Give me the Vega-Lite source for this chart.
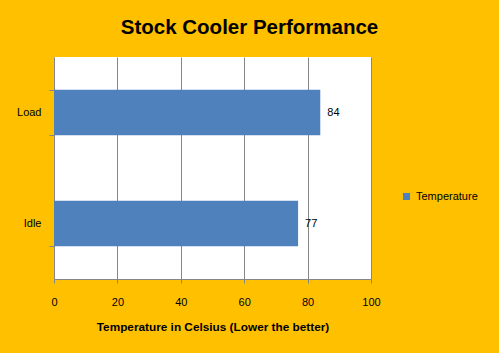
{
  "$schema": "https://vega.github.io/schema/vega-lite/v6.json",
  "autosize": "none",
  "width": 317,
  "height": 222,
  "padding": {"left": 54, "top": 57, "right": 128, "bottom": 74},
  "background": "#FFC000",
  "title": {
    "text": "Stock Cooler Performance",
    "font": "Liberation Sans",
    "fontSize": 20.5,
    "fontWeight": "bold",
    "color": "#000000",
    "anchor": "middle",
    "dx": 37,
    "offset": 13
  },
  "config": {
    "view": {"fill": "#FFFFFF", "stroke": null},
    "font": "Liberation Sans"
  },
  "data": {
    "values": [
      {"state": "Load", "temp": 84, "series": "Temperature"},
      {"state": "Idle", "temp": 77, "series": "Temperature"}
    ]
  },
  "encoding": {
    "y": {
      "field": "state",
      "type": "nominal",
      "sort": null,
      "scale": {"paddingInner": 0.59, "paddingOuter": 0.295},
      "axis": {
        "title": null,
        "labelFont": "Liberation Sans",
        "labelFontSize": 11,
        "labelColor": "#000000",
        "labelPadding": 8,
        "tickBand": "extent",
        "tickSize": 5,
        "tickColor": "#868686",
        "domainColor": "#868686",
        "grid": false
      }
    },
    "x": {
      "field": "temp",
      "type": "quantitative",
      "scale": {"domain": [0, 100]},
      "axis": {
        "title": "Temperature in Celsius (Lower the better)",
        "titleFont": "Liberation Sans",
        "titleFontSize": 11.8,
        "titleFontWeight": "bold",
        "titleColor": "#000000",
        "titlePadding": 14,
        "values": [0, 20, 40, 60, 80, 100],
        "labelFont": "Liberation Sans",
        "labelFontSize": 11,
        "labelColor": "#000000",
        "labelPadding": 13,
        "tickSize": 4,
        "tickColor": "#868686",
        "domainColor": "#868686",
        "gridColor": "#868686",
        "gridOpacity": 1,
        "labelFlush": false
      }
    }
  },
  "layer": [
    {
      "mark": {"type": "bar", "color": "#4F81BD"},
      "encoding": {
        "color": {
          "field": "series",
          "type": "nominal",
          "scale": {"range": ["#4F81BD"]},
          "legend": {
            "title": null,
            "orient": "none",
            "legendX": 347,
            "legendY": 134,
            "symbolType": "square",
            "symbolSize": 50,
            "symbolStrokeWidth": 0,
            "labelFont": "Liberation Sans",
            "labelFontSize": 11,
            "labelColor": "#000000",
            "labelOffset": 4
          }
        }
      }
    },
    {
      "mark": {"type": "text", "align": "left", "dx": 7, "fontSize": 11, "font": "Liberation Sans", "color": "#000000"},
      "encoding": {"text": {"field": "temp", "type": "quantitative"}}
    }
  ]
}
